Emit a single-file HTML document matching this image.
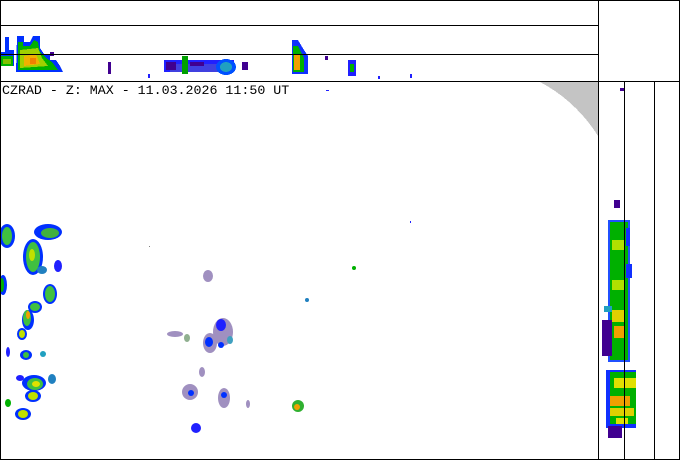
<!DOCTYPE html>
<html><head><meta charset="utf-8"><style>
html,body{margin:0;padding:0;background:#fff;}
svg{display:block;}
text{font-family:"Liberation Mono",monospace;font-size:13.3px;}
</style></head><body>
<svg width="680" height="460" viewBox="0 0 680 460" xmlns="http://www.w3.org/2000/svg" shape-rendering="crispEdges">
<rect x="0" y="0" width="680" height="460" fill="#fff"/>
<path d="M540,82 L598,82 L598,136 C585,115 565,95 540,82 Z" fill="#c4c4c4"/>
<!-- top strip echoes -->
<g>
<path d="M5,37 L9,37 L9,50 L14,50 L14,66 L0,66 L0,52 L5,52 Z" fill="#0030ff"/>
<path d="M1,56 L13,56 L13,66 L1,66 Z" fill="#00b000"/>
<rect x="3" y="59" width="8" height="5" fill="#80c000"/>
<path d="M17,36 L24,36 L24,42 L30,42 L33,36 L40,36 L40,48 L44,54 L50,54 L50,60 L56,60 L60,66 L63,72 L16,72 Z" fill="#0030ff"/>
<path d="M18,42 L23,42 L23,46 L30,46 L34,40 L38,42 L40,52 L46,58 L52,62 L58,70 L18,70 Z" fill="#00b000"/>
<path d="M20,50 L38,48 L42,58 L48,66 L20,68 Z" fill="#a0d000"/>
<path d="M24,56 L36,54 L40,64 L24,66 Z" fill="#f0b000"/>
<rect x="30" y="58" width="6" height="6" fill="#f08000"/>
<rect x="50" y="52" width="4" height="4" fill="#400090"/>
<rect x="108" y="62" width="3" height="12" fill="#400090"/>
<rect x="164" y="60" width="70" height="12" fill="#2020ff"/>
<rect x="170" y="64" width="60" height="8" fill="#4040e0"/>
<rect x="166" y="62" width="10" height="8" fill="#400090"/>
<rect x="182" y="56" width="6" height="18" fill="#00a000"/>
<rect x="190" y="62" width="14" height="4" fill="#400090"/>
<ellipse cx="226" cy="67" rx="10" ry="8" fill="#0050ff"/>
<ellipse cx="226" cy="67" rx="6" ry="5" fill="#20a0c0"/>
<rect x="242" y="62" width="6" height="8" fill="#400090"/>
<path d="M292,40 L298,40 L304,50 L308,56 L308,74 L292,74 Z" fill="#1030ff"/>
<path d="M293,46 L298,46 L304,58 L304,72 L293,72 Z" fill="#00b000"/>
<rect x="294" y="54" width="6" height="16" fill="#f0a000"/>
<rect x="348" y="60" width="8" height="16" fill="#2020ff"/>
<rect x="350" y="64" width="4" height="8" fill="#00b000"/>
<rect x="325" y="56" width="3" height="4" fill="#400090"/>
<rect x="378" y="76" width="2" height="3" fill="#2020ff"/>
<rect x="410" y="74" width="2" height="4" fill="#2020ff"/>
<rect x="148" y="74" width="2" height="4" fill="#2020ff"/>
</g>
<!-- right strip echoes -->
<g>
<rect x="614" y="200" width="6" height="8" fill="#400090"/>
<rect x="608" y="220" width="22" height="142" fill="#2050ff"/>
<rect x="610" y="222" width="18" height="138" fill="#00b000"/>
<rect x="626" y="228" width="4" height="18" fill="#1030ff"/>
<rect x="626" y="264" width="6" height="14" fill="#1030ff"/>
<rect x="612" y="240" width="12" height="10" fill="#b0e000"/>
<rect x="612" y="280" width="12" height="10" fill="#b0e000"/>
<rect x="612" y="310" width="12" height="12" fill="#e0d000"/>
<rect x="614" y="326" width="10" height="12" fill="#f0a000"/>
<rect x="602" y="320" width="10" height="36" fill="#400090"/>
<rect x="604" y="306" width="8" height="6" fill="#20a0c0"/>
<rect x="606" y="370" width="30" height="58" fill="#1030ff"/>
<rect x="610" y="372" width="26" height="52" fill="#00b000"/>
<rect x="614" y="378" width="22" height="10" fill="#e0e000"/>
<rect x="610" y="396" width="20" height="10" fill="#f0a000"/>
<rect x="610" y="408" width="24" height="8" fill="#e0d000"/>
<rect x="616" y="418" width="12" height="6" fill="#e0e000"/>
<rect x="608" y="426" width="14" height="12" fill="#400090"/>
<rect x="620" y="88" width="4" height="3" fill="#400090"/>
</g>
<!-- main map echoes -->
<g shape-rendering="auto">
<ellipse cx="7" cy="236" rx="8" ry="12" fill="#0030ff"/><ellipse cx="7" cy="236" rx="5" ry="9" fill="#40c040"/>
<ellipse cx="48" cy="232" rx="14" ry="8" fill="#0030ff"/><ellipse cx="50" cy="233" rx="9" ry="5" fill="#40b040"/>
<ellipse cx="33" cy="257" rx="10" ry="18" fill="#0030ff"/><ellipse cx="33" cy="257" rx="7" ry="15" fill="#40c040"/><ellipse cx="32" cy="255" rx="3" ry="6" fill="#c0e000"/>
<ellipse cx="42" cy="270" rx="5" ry="4" fill="#2080c0"/>
<ellipse cx="58" cy="266" rx="4" ry="6" fill="#2020ff"/>
<ellipse cx="3" cy="285" rx="4" ry="10" fill="#0030ff"/><ellipse cx="2" cy="285" rx="2" ry="7" fill="#00b000"/>
<ellipse cx="50" cy="294" rx="7" ry="10" fill="#0030ff"/><ellipse cx="50" cy="294" rx="5" ry="8" fill="#40c040"/>
<ellipse cx="35" cy="307" rx="7" ry="6" fill="#0030ff"/><ellipse cx="35" cy="307" rx="5" ry="4" fill="#40c040"/>
<ellipse cx="28" cy="320" rx="6" ry="10" fill="#0030ff"/><ellipse cx="27" cy="318" rx="4" ry="8" fill="#40c040"/><ellipse cx="28" cy="315" rx="2" ry="4" fill="#f0a000"/>
<ellipse cx="22" cy="334" rx="5" ry="6" fill="#0030ff"/><ellipse cx="22" cy="334" rx="3" ry="4" fill="#c0e000"/>
<ellipse cx="8" cy="352" rx="2" ry="5" fill="#2020ff"/>
<ellipse cx="26" cy="355" rx="6" ry="5" fill="#0030ff"/><ellipse cx="26" cy="355" rx="3" ry="3" fill="#40c040"/>
<ellipse cx="43" cy="354" rx="3" ry="3" fill="#20a0c0"/>
<ellipse cx="34" cy="383" rx="12" ry="8" fill="#0030ff"/><ellipse cx="35" cy="384" rx="8" ry="6" fill="#40c040"/><ellipse cx="36" cy="384" rx="4" ry="3" fill="#e0e000"/>
<ellipse cx="20" cy="378" rx="4" ry="3" fill="#2020ff"/>
<ellipse cx="52" cy="379" rx="4" ry="5" fill="#2080c0"/>
<ellipse cx="33" cy="396" rx="8" ry="6" fill="#0030ff"/><ellipse cx="33" cy="396" rx="5" ry="4" fill="#c0e000"/>
<ellipse cx="8" cy="403" rx="3" ry="4" fill="#00b000"/>
<ellipse cx="23" cy="414" rx="8" ry="6" fill="#0030ff"/><ellipse cx="23" cy="414" rx="5" ry="4" fill="#c0e000"/>
<ellipse cx="208" cy="276" rx="5" ry="6" fill="#a090c0"/>
<ellipse cx="175" cy="334" rx="8" ry="3" fill="#a090c0"/>
<ellipse cx="187" cy="338" rx="3" ry="4" fill="#90b090"/>
<ellipse cx="223" cy="332" rx="10" ry="14" fill="#a090c0"/>
<ellipse cx="221" cy="325" rx="5" ry="6" fill="#2020ff"/>
<ellipse cx="210" cy="343" rx="7" ry="10" fill="#a090c0"/>
<ellipse cx="209" cy="342" rx="4" ry="5" fill="#0030ff"/>
<ellipse cx="221" cy="345" rx="3" ry="3" fill="#0030ff"/>
<ellipse cx="230" cy="340" rx="3" ry="4" fill="#40a0c0"/>
<ellipse cx="202" cy="372" rx="3" ry="5" fill="#a090c0"/>
<ellipse cx="190" cy="392" rx="8" ry="8" fill="#a090c0"/><ellipse cx="191" cy="393" rx="3" ry="3" fill="#0030ff"/>
<ellipse cx="224" cy="398" rx="6" ry="10" fill="#a090c0"/><ellipse cx="224" cy="395" rx="3" ry="3" fill="#0030ff"/>
<ellipse cx="196" cy="428" rx="5" ry="5" fill="#2020ff"/>
<ellipse cx="248" cy="404" rx="2" ry="4" fill="#a090c0"/>
<ellipse cx="298" cy="406" rx="6" ry="6" fill="#30b030"/><ellipse cx="297" cy="407" rx="3" ry="3" fill="#f0a000"/>
<ellipse cx="307" cy="300" rx="2" ry="2" fill="#2080c0"/>
<ellipse cx="354" cy="268" rx="2" ry="2" fill="#00b000"/>
<rect x="410" y="221" width="1" height="2" fill="#2020ff"/>
<rect x="149" y="246" width="1" height="1" fill="#808080"/>
<rect x="326" y="90" width="3" height="1" fill="#2020ff"/>
</g>
<g fill="none" stroke="#000" stroke-width="1">
<rect x="0.5" y="0.5" width="679" height="459"/>
<line x1="0" y1="25.5" x2="598" y2="25.5"/>
<line x1="0" y1="54.5" x2="598" y2="54.5"/>
<line x1="0" y1="81.5" x2="680" y2="81.5"/>
<line x1="598.5" y1="0" x2="598.5" y2="460"/>
<line x1="624.5" y1="81" x2="624.5" y2="460"/>
<line x1="654.5" y1="81" x2="654.5" y2="460"/>
</g>
<text x="2" y="94" fill="#000">CZRAD - Z: MAX - 11.03.2026 11:50 UT</text>
</svg>
</body></html>
